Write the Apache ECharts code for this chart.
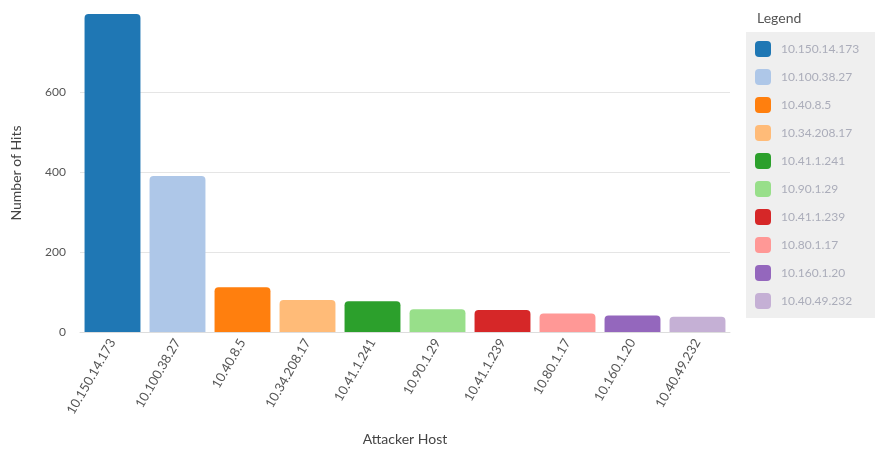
<!DOCTYPE html>
<html>
<head>
<meta charset="utf-8">
<script src="https://cdn.jsdelivr.net/npm/echarts@6/dist/echarts.min.js"></script>
<style>
  html, body { margin: 0; padding: 0; background: #fff; }
  #chart { width: 875px; height: 452px; }
</style>
</head>
<body>
<div id="chart"></div>
<script>
// hosts and hit counts
var hosts = ['10.150.14.173', '10.100.38.27', '10.40.8.5', '10.34.208.17', '10.41.1.241',
  '10.90.1.29', '10.41.1.239', '10.80.1.17', '10.160.1.20', '10.40.49.232']
var hits = [795, 390, 112, 80, 77, 57, 55, 46, 41, 38]
var colors = ['#1f77b4', '#aec7e8', '#ff7f0e', '#ffbb78', '#2ca02c',
  '#98df8a', '#d62728', '#ff9896', '#9467bd', '#c5b0d5']
var yTicks = [0, 200, 400, 600]

var font = 'Lato, "Open Sans", sans-serif'

// one series per host so the legend lists each one; stacked so each bar sits centred
var series = hosts.map(function(h, i) {
  var data = hosts.map(function(_, j) { return j === i ? hits[i] : null })
  return {
    name: h,
    type: 'bar',
    stack: 'hits',
    barCategoryGap: '14%',
    itemStyle: { color: colors[i], borderRadius: [4, 4, 0, 0] },
    data: data
  }
})

var chart = echarts.init(document.getElementById('chart'))
chart.setOption({
  animation: false,
  textStyle: { fontFamily: font },
  title: {
    text: 'Legend',
    left: 752,
    top: 6,
    textStyle: { fontSize: 14, fontWeight: 'normal', color: '#555', fontFamily: font }
  },
  legend: {
    orient: 'vertical',
    left: 746,
    top: 32,
    backgroundColor: '#efefef',
    padding: [9, 22, 9, 9],
    itemWidth: 16,
    itemHeight: 16,
    itemGap: 12,
    icon: 'roundRect',
    selectedMode: false,
    textStyle: { color: '#abadba', fontSize: 12, fontFamily: font, padding: [0, 0, 0, 5] },
    data: hosts
  },
  grid: { left: 80, right: 145, top: 14, bottom: 120 },
  xAxis: {
    type: 'category',
    data: hosts,
    name: 'Attacker Host',
    nameLocation: 'middle',
    nameGap: 100,
    nameTextStyle: { fontSize: 14, color: '#444', fontFamily: font },
    axisLine: { lineStyle: { color: '#ddd' } },
    axisTick: { show: false },
    axisLabel: { rotate: 60, fontSize: 13, color: '#555', margin: 8, interval: 0 }
  },
  yAxis: {
    type: 'value',
    min: 0,
    max: 795,
    interval: 200,
    name: 'Number of Hits',
    nameLocation: 'middle',
    nameGap: 57,
    nameTextStyle: { fontSize: 14, color: '#444', fontFamily: font },
    axisLine: { show: false },
    axisTick: { show: false },
    splitLine: { showMaxLine: false, lineStyle: { color: '#e5e5e5' } },
    axisLabel: {
      fontSize: 12,
      color: '#555',
      margin: 14,
      formatter: function(v) { return yTicks.indexOf(v) >= 0 ? v : '' }
    }
  },
  series: series
})
</script>
</body>
</html>
